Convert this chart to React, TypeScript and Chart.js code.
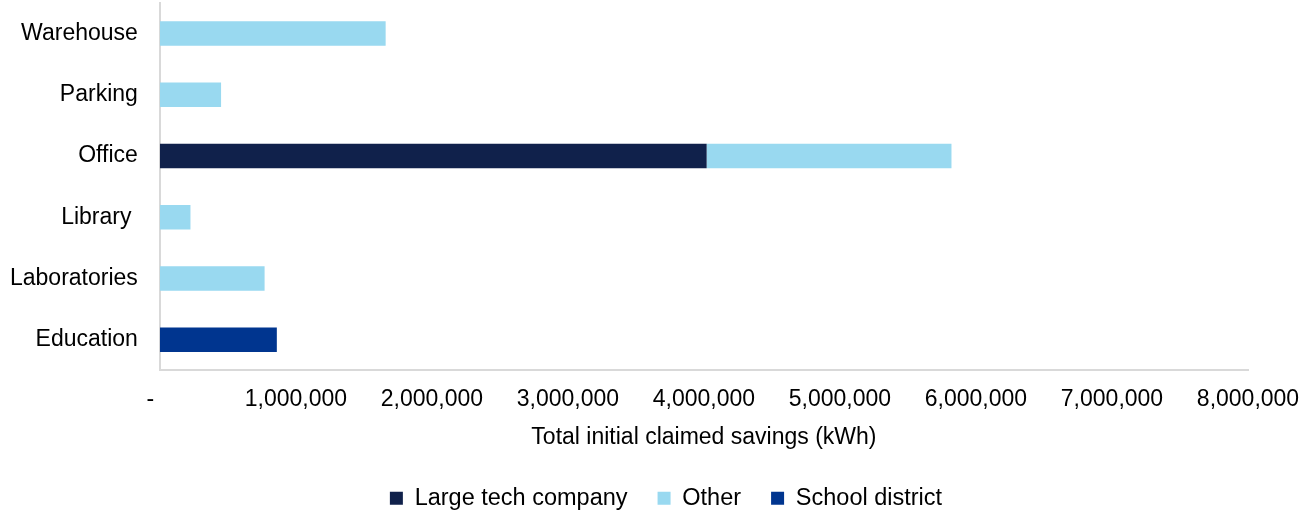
import React, { useEffect, useRef } from "react";
import { Chart, registerables } from "chart.js";

Chart.register(...registerables);

const categories = ["Warehouse", "Parking", "Office", "Library ", "Laboratories", "Education"];
const largeTech = [null, null, 4020000, null, null, null];
const other = [1660000, 450000, 1800000, 225000, 770000, null];
const schoolDistrict = [null, null, null, null, null, 860000];
const xTicks = [0, 1000000, 2000000, 3000000, 4000000, 5000000, 6000000, 7000000, 8000000];
const xTitle = "Total initial claimed savings (kWh)";

const FONT = "'Liberation Sans', Arial, sans-serif";

const shiftLegend = {
  id: "shiftLegend",
  afterLayout(chart: any) {
    const l = chart.legend;
    if (l) {
      l.left += 48;
      l.right += 48;
    }
  },
};

const zeroPadding = (scale: any) => {
  scale.paddingLeft = 0;
  scale.paddingRight = 0;
  scale.paddingTop = 0;
  scale.paddingBottom = 0;
};

export default function App() {
  const ref = useRef<HTMLCanvasElement | null>(null);
  useEffect(() => {
    document.body.style.margin = "0";
    document.body.style.overflow = "hidden";
    const ctx = ref.current!;
    const chart = new Chart(ctx, {
      type: "bar",
      data: {
        labels: categories,
        datasets: [
          { label: "Large tech company", data: largeTech as any, backgroundColor: "#10214B" },
          { label: "Other", data: other as any, backgroundColor: "#99D9F0" },
          { label: "School district", data: schoolDistrict as any, backgroundColor: "#00358F" },
        ],
      },
      plugins: [shiftLegend],
      options: {
        indexAxis: "y",
        responsive: false,
        animation: false,
        devicePixelRatio: 1,
        datasets: { bar: { barPercentage: 0.4, categoryPercentage: 1 } },
        layout: { padding: { top: 3, left: -12, right: 65, bottom: -6 } },
        scales: {
          x: {
            stacked: true,
            min: 0,
            max: 8000000,
            afterBuildTicks: (axis: any) => {
              axis.ticks = xTicks.map((v) => ({ value: v }));
            },
            afterFit: zeroPadding,
            grid: { display: false, drawTicks: false },
            border: { display: true, color: "#D9D9D9", width: 2 },
            ticks: {
              color: "#000",
              font: { family: FONT, size: 23 },
              padding: 16,
              maxRotation: 0,
              autoSkip: false,
              callback: (v: any) => (Number(v) === 0 ? "-   " : Number(v).toLocaleString("en-US")),
            },
            title: {
              display: true,
              text: xTitle,
              color: "#000",
              font: { family: FONT, size: 23 },
              padding: { top: -6, bottom: 5 },
            },
          },
          y: {
            stacked: true,
            afterFit: zeroPadding,
            grid: { display: false, drawTicks: false },
            border: { display: true, color: "#D9D9D9", width: 2 },
            ticks: {
              color: "#000",
              font: { family: FONT, size: 23 },
              padding: 22,
            },
          },
        },
        plugins: {
          legend: {
            position: "bottom",
            labels: {
              color: "#000",
              font: { family: FONT, size: 23.5 },
              boxWidth: 13,
              boxHeight: 13,
              padding: 30,
            },
          },
          tooltip: { enabled: false },
        },
      },
    });
    return () => chart.destroy();
  }, []);
  return (
    <canvas
      ref={ref}
      width={1313}
      height={514}
      style={{ position: "fixed", left: 0, top: 0, width: 1313, height: 514 }}
    />
  );
}
